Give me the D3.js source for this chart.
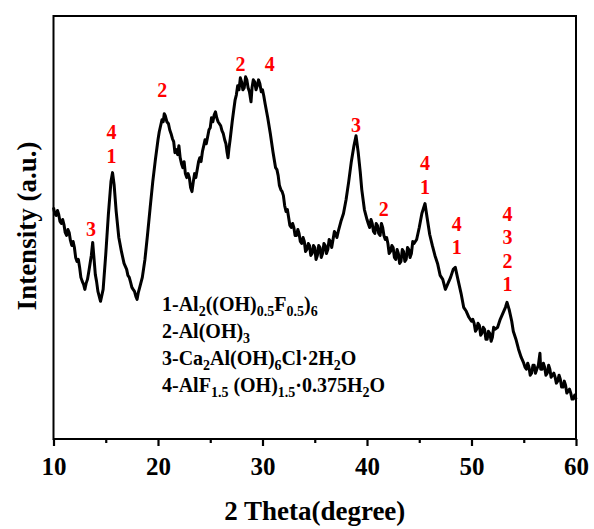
<!DOCTYPE html>
<html>
<head>
<meta charset="utf-8">
<script src="https://cdn.jsdelivr.net/npm/d3@7"></script>
<style>
  html, body { margin: 0; padding: 0; background: #fff; }
  svg { display: block; }
  text { font-family: "Liberation Serif", "Times New Roman", serif; font-weight: bold; }
</style>
</head>
<body>
<div id="chart"></div>
<script>
// XRD pattern: [2θ (degree), intensity (a.u.)]
const pattern = [
  [10.00, 232], [10.12, 226], [10.25, 224], [10.38, 229], [10.50, 225], [10.62, 218], [10.75, 216],
  [10.88, 220], [11.00, 215], [11.12, 207], [11.25, 204], [11.38, 210], [11.50, 207], [11.62, 199],
  [11.75, 194], [11.88, 198], [12.00, 192], [12.12, 182], [12.25, 178], [12.38, 180], [12.50, 172],
  [12.62, 162], [12.75, 158], [12.88, 155], [13.00, 150], [13.12, 156], [13.25, 160], [13.38, 168],
  [13.50, 176], [13.62, 184], [13.75, 197], [13.90, 178], [14.00, 165], [14.12, 158],
  [14.25, 148], [14.50, 138], [14.75, 150], [15.00, 185], [15.25, 225], [15.50, 258],
  [15.65, 267], [15.80, 255], [16.00, 228], [16.25, 202], [16.50, 188], [16.75, 176],
  [17.00, 170], [17.12, 164], [17.25, 162], [17.38, 157], [17.50, 152], [17.62, 150], [17.75, 148],
  [17.88, 143], [18.00, 140], [18.12, 147], [18.25, 152],
  [18.50, 162], [18.75, 180], [19.00, 205], [19.25, 232], [19.50, 258], [19.75, 280],
  [20.00, 300], [20.12, 308], [20.25, 314], [20.38, 320], [20.50, 318], [20.60, 326], [20.70, 324],
  [20.85, 318], [21.00, 316], [21.12, 310], [21.25, 306], [21.38, 301],
  [21.50, 298], [21.62, 287], [21.75, 290], [21.88, 285], [22.00, 294], [22.12, 282], [22.25, 276],
  [22.38, 272], [22.50, 278], [22.62, 266], [22.75, 262], [22.88, 266],
  [23.00, 262], [23.12, 252], [23.25, 248], [23.38, 258], [23.50, 266], [23.62, 262], [23.75, 270],
  [23.88, 278], [24.00, 282], [24.12, 278], [24.25, 288], [24.38, 294],
  [24.50, 300], [24.62, 296], [24.75, 303], [24.88, 310], [25.00, 312], [25.12, 322], [25.25, 318],
  [25.38, 325], [25.50, 328], [25.62, 322], [25.75, 318],
  [26.00, 314], [26.12, 309], [26.25, 306], [26.38, 300], [26.50, 296], [26.60, 288], [26.70, 282], [26.80, 292], [26.90, 300], [27.10, 318],
  [27.25, 330], [27.38, 340], [27.50, 345], [27.62, 354], [27.75, 350], [27.88, 362], [28.00, 358],
  [28.12, 350], [28.25, 352], [28.38, 363], [28.50, 360], [28.62, 352],
  [28.75, 348], [28.90, 338], [29.00, 352], [29.12, 360], [29.25, 358], [29.38, 350], [29.50, 354],
  [29.62, 360], [29.75, 356], [29.88, 348],
  [30.00, 350], [30.12, 344], [30.25, 336], [30.50, 322], [30.75, 306], [31.00, 288], [31.25, 272],
  [31.38, 270], [31.50, 264], [31.62, 254], [31.75, 250], [31.88, 248], [32.00, 244], [32.12, 234],
  [32.25, 228], [32.38, 230], [32.50, 222], [32.62, 214], [32.75, 212],
  [32.88, 216], [33.00, 212], [33.12, 204], [33.25, 204], [33.38, 210], [33.50, 206], [33.62, 198],
  [33.75, 196], [33.88, 202], [34.00, 198], [34.12, 188], [34.25, 190],
  [34.38, 196], [34.50, 194], [34.62, 184], [34.75, 186], [34.88, 194], [35.00, 192], [35.12, 180],
  [35.25, 184], [35.38, 194], [35.50, 192], [35.62, 182], [35.75, 186],
  [35.88, 196], [36.00, 194], [36.12, 186], [36.25, 190], [36.38, 200], [36.50, 198], [36.62, 192],
  [36.75, 200], [36.88, 208], [37.00, 206], [37.12, 202], [37.25, 208],
  [37.50, 218], [37.75, 226], [38.00, 240], [38.25, 258], [38.50, 278], [38.75, 294],
  [38.95, 304], [39.15, 288], [39.35, 268], [39.50, 250], [39.75, 230], [40.00, 220],
  [40.12, 216], [40.25, 212], [40.38, 220], [40.50, 216], [40.62, 208], [40.75, 206], [40.88, 216],
  [41.00, 214], [41.12, 206], [41.25, 204], [41.38, 216], [41.50, 212], [41.62, 204],
  [41.75, 200], [41.88, 202], [42.00, 196], [42.12, 186], [42.25, 188], [42.38, 194], [42.50, 192],
  [42.62, 182], [42.75, 180], [42.88, 190], [43.00, 186], [43.12, 176],
  [43.25, 178], [43.38, 190], [43.50, 188], [43.62, 178], [43.75, 180], [43.88, 192], [44.00, 190],
  [44.12, 182], [44.25, 186], [44.38, 198], [44.50, 196],
  [44.75, 200], [45.00, 212], [45.25, 226], [45.55, 236], [45.75, 222], [46.00, 205],
  [46.25, 194], [46.50, 184], [46.75, 176], [47.00, 164], [47.25, 160], [47.50, 150],
  [47.75, 156], [48.00, 162], [48.25, 170], [48.45, 172], [48.70, 160], [49.00, 146],
  [49.25, 132], [49.50, 128], [49.75, 122], [50.00, 118], [50.12, 120], [50.25, 116], [50.38, 108],
  [50.50, 110], [50.62, 116], [50.75, 114], [50.88, 104], [51.00, 106], [51.12, 112], [51.25, 110],
  [51.38, 100], [51.50, 100], [51.62, 108], [51.75, 106], [51.88, 98], [52.00, 102],
  [52.12, 112], [52.25, 110], [52.50, 112], [52.75, 120], [53.00, 126], [53.25, 132], [53.40, 137],
  [53.60, 130], [53.85, 118], [54.00, 108], [54.25, 100], [54.50, 90], [54.75, 82],
  [55.00, 76], [55.12, 72], [55.25, 70], [55.38, 76], [55.50, 72], [55.62, 64], [55.75, 66],
  [55.88, 74], [56.00, 74], [56.12, 66], [56.25, 70], [56.40, 74],
  [56.55, 86], [56.62, 70], [56.75, 70], [56.88, 76], [57.00, 72], [57.12, 64], [57.25, 66],
  [57.38, 74], [57.50, 70], [57.62, 62], [57.75, 64], [57.88, 66],
  [58.00, 62], [58.12, 56], [58.25, 58], [58.38, 64], [58.50, 60], [58.62, 52], [58.75, 52],
  [58.88, 58], [59.00, 54], [59.12, 46], [59.25, 48], [59.38, 50],
  [59.50, 46], [59.62, 40], [59.75, 40], [59.88, 44], [60.00, 40]
];

const majorTicks = [10, 20, 30, 40, 50, 60];
const minorTicks = [15, 25, 35, 45, 55];

// peak markers: 2θ position, intensity of the lowest label line, stacked phase numbers (top to bottom)
const peakAngles = [13.6, 15.55, 20.4, 27.9, 38.95, 41.6, 45.55, 48.6, 53.45];
const peakLevels = [203, 277, 343, 369, 308, 224, 246, 185, 148];
const peakNumbers = [['3'], ['4', '1'], ['2'], ['2'], ['3'], ['2'], ['4', '1'], ['4', '1'], ['4', '3', '2', '1']];
const extraPeakAngles = [30.7];
const extraPeakLevels = [369];
const extraPeakNumbers = [['4']];

// legend lines: [text, isSubscript]
const legendLines = [
  [['1-Al', false], ['2', true], ['((OH)', false], ['0.5', true], ['F', false], ['0.5', true], [')', false], ['6', true]],
  [['2-Al(OH)', false], ['3', true]],
  [['3-Ca', false], ['2', true], ['Al(OH)', false], ['6', true], ['Cl·2H', false], ['2', true], ['O', false]],
  [['4-AlF', false], ['1.5', true], [' (OH)', false], ['1.5', true], ['·0.375H', false], ['2', true], ['O', false]]
];

const xTitle = '2 Theta(degree)';
const yTitle = 'Intensity (a.u.)';

// ============================================================
const WIDTH = 594, HEIGHT = 529;
const margin = { top: 16, right: 18, bottom: 90, left: 53.5 };
const innerW = WIDTH - margin.left - margin.right;
const innerH = HEIGHT - margin.top - margin.bottom;

const svg = d3.select('#chart')
  .append('svg')
  .attr('width', WIDTH)
  .attr('height', HEIGHT);

const g = svg.append('g')
  .attr('transform', `translate(${margin.left},${margin.top})`);

const x = d3.scaleLinear().domain([10, 60]).range([0, innerW]);
const y = d3.scaleLinear().domain([0, 424]).range([innerH, 0]);

// pattern curve
const line = d3.line()
  .x(d => x(d[0]))
  .y(d => y(d[1]));

g.append('path')
  .datum(pattern)
  .attr('fill', 'none')
  .attr('stroke', '#000')
  .attr('stroke-width', 3)
  .attr('stroke-linejoin', 'round')
  .attr('d', line);

// frame
g.append('rect')
  .attr('width', innerW)
  .attr('height', innerH)
  .attr('fill', 'none')
  .attr('stroke', '#000')
  .attr('stroke-width', 2);

// x axis, major + minor ticks
const xAxis = g.append('g')
  .attr('transform', `translate(0,${innerH})`)
  .call(d3.axisBottom(x).tickValues(majorTicks).tickSize(7).tickSizeOuter(0).tickFormat(d3.format('d')));

xAxis.select('.domain').remove();
xAxis.selectAll('.tick line').attr('stroke-width', 2.2);
xAxis.selectAll('.tick text')
  .attr('y', 36)
  .attr('dy', 0)
  .attr('fill', '#000')
  .style('font-size', '25px')
  .style('font-family', '"Liberation Serif", serif')
  .style('font-weight', 'bold');

g.append('g')
  .attr('transform', `translate(0,${innerH})`)
  .call(d3.axisBottom(x).tickValues(minorTicks).tickSize(4).tickSizeOuter(0).tickFormat(''))
  .call(a => a.select('.domain').remove())
  .selectAll('.tick line').attr('stroke-width', 2.2);

// axis titles
svg.append('text')
  .attr('x', margin.left + innerW / 2)
  .attr('y', 520)
  .attr('text-anchor', 'middle')
  .style('font-size', '27px')
  .text(xTitle);

svg.append('text')
  .attr('transform', `translate(36,${margin.top + 210}) rotate(-90)`)
  .attr('text-anchor', 'middle')
  .style('font-size', '27px')
  .text(yTitle);

// red peak labels
function drawPeakLabels(angles, levels, numbers) {
  angles.forEach((a, i) => {
    const nums = numbers[i];
    nums.forEach((n, j) => {
      g.append('text')
        .attr('x', x(a))
        .attr('y', y(levels[i]) - (nums.length - 1 - j) * 23.5)
        .attr('text-anchor', 'middle')
        .attr('fill', '#ff0000')
        .style('font-size', '20px')
        .text(n);
    });
  });
}
drawPeakLabels(peakAngles, peakLevels, peakNumbers);
drawPeakLabels(extraPeakAngles, extraPeakLevels, extraPeakNumbers);

// legend with subscripts
const legend = svg.append('g').attr('transform', 'translate(162,311)');
legendLines.forEach((parts, i) => {
  const t = legend.append('text')
    .attr('x', 0)
    .attr('y', i * 27)
    .style('font-size', '20px');
  let sub = false;
  parts.forEach(([s, isSub]) => {
    const dy = isSub === sub ? 0 : (isSub ? 5 : -5);
    t.append('tspan')
      .attr('dy', dy)
      .style('font-size', isSub ? '14px' : '20px')
      .text(s);
    sub = isSub;
  });
});
</script>
</body>
</html>
